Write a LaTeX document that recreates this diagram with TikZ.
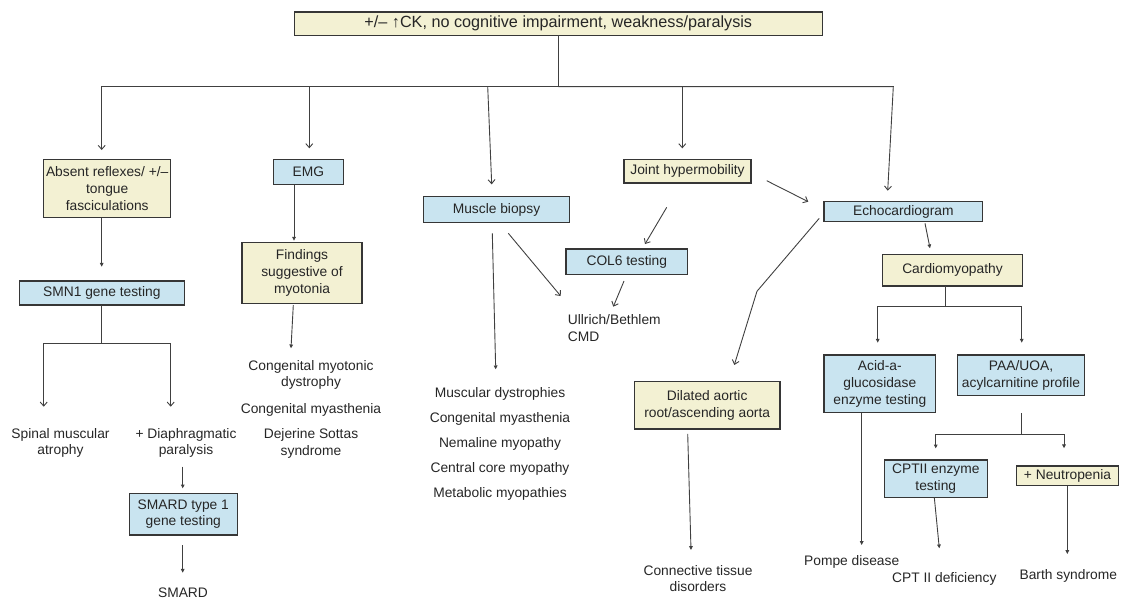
\documentclass[tikz,border=0pt]{standalone}
\usepackage{fontspec}
\setmainfont{Liberation Sans}
\usetikzlibrary{arrows.meta,calc}
\definecolor{cream}{HTML}{F3F1D3}
\definecolor{pale}{HTML}{C9E4F0}
\definecolor{edge}{HTML}{363636}
\definecolor{wire}{HTML}{404040}

\begin{document}
\begin{tikzpicture}
  [
    x=1pt, y=-1pt,
    every node/.style = {font=\fontsize{13.8}{16.7}\selectfont, text=black!85},
    box/.style =
      {draw=edge, line width=1.2pt, inner sep=2pt, outer sep=0pt, align=center},
    ybox/.style = {box, fill=cream},
    bbox/.style = {box, fill=pale},
    txt/.style = {inner sep=0pt, align=center},
    ln/.style = {draw=wire, line width=0.9pt},
    oa/.style = {ln, -{Straight Barb[length=4pt, width=7pt]}},
    fa/.style = {ln, -{Triangle[length=3.8pt, width=3.6pt]}}
  ]
  \useasboundingbox (0, 0) rectangle (1121, 603);

  \node [ybox, minimum width=528pt, minimum height=23.3pt,
         font=\fontsize{16.2}{19}\selectfont] (top) at (558.3, 23.7)
        {+/– ↑CK, no cognitive impairment, weakness/paralysis};

  \node [ybox, minimum width=127pt, minimum height=58.4pt] (absent) at (107.2, 188.5)
        {Absent reflexes/ +/–\\tongue\\fasciculations};
  \node [bbox, minimum width=70pt, minimum height=25.4pt] (emg) at (308.3, 172) {EMG};
  \node [bbox, minimum width=145.6pt, minimum height=25.6pt] (biopsy) at (496.5, 209.5) {Muscle biopsy};
  \node [ybox, minimum width=127pt, minimum height=23.7pt] (joint) at (687.5, 171.2) {Joint hypermobility};
  \node [bbox, minimum width=158.7pt, minimum height=20pt] (echo) at (903.3, 211.7) {Echocardiogram};

  \node [ybox, minimum width=120pt, minimum height=61pt] (findings) at (302, 272.8)
        {Findings\\suggestive of\\myotonia};
  \node [bbox, minimum width=165pt, minimum height=24pt] (smn) at (101.8, 293) {SMN1 gene testing};
  \node [bbox, minimum width=121.7pt, minimum height=25.3pt] (col) at (626.8, 261.7) {COL6 testing};
  \node [ybox, minimum width=139.6pt, minimum height=31.3pt] (cardio) at (952.5, 270.3) {Cardiomyopathy};
  \node [ybox, minimum width=145.7pt, minimum height=47.3pt] (aorta) at (707.2, 405.3)
        {Dilated aortic\\root/ascending aorta};
  \node [bbox, minimum width=111.7pt, minimum height=57.7pt] (acid) at (879.8, 383.8)
        {Acid-a-\\glucosidase\\enzyme testing};
  \node [bbox, minimum width=126.6pt, minimum height=40.7pt] (paa) at (1021, 375.3)
        {PAA/UOA,\\acylcarnitine profile};
  \node [bbox, minimum width=103pt, minimum height=37.3pt] (cpt) at (935.8, 478.7)
        {CPTII enzyme\\testing};
  \node [ybox, minimum width=101.6pt, minimum height=19.7pt] (neutro) at (1067.5, 475.8) {+ Neutropenia};
  \node [bbox, minimum width=108pt, minimum height=41.7pt] (smard1) at (183.3, 514.2)
        {SMARD type 1\\gene testing};

  \node [txt] (sma) at (60.5, 443) {Spinal muscular\\atrophy};
  \node [txt] (diaph) at (186, 443) {+ Diaphragmatic\\paralysis};
  \node [txt] (smard) at (183, 593) {SMARD};
  \node [txt] (myot) at (311, 375) {Congenital myotonic\\dystrophy};
  \node [txt] (myas) at (311, 410) {Congenital myasthenia};
  \node [txt] (dss) at (311, 443.5) {Dejerine Sottas\\syndrome};
  \node [txt] (dx) at (500, 443.7)
        {Muscular dystrophies\\[8.3pt]Congenital myasthenia\\[8.3pt]Nemaline myopathy\\[8.3pt]Central core myopathy\\[8.3pt]Metabolic myopathies};
  \node [txt, align=left, anchor=west] (ullrich) at (567.7, 328) {Ullrich/Bethlem\\CMD};
  \node [txt] (ctd) at (698, 578.7) {Connective tissue\\disorders};
  \node [txt] (pompe) at (851.7, 561.7) {Pompe disease};
  \node [txt] (cptdef) at (944.3, 579.3) {CPT II deficiency};
  \node [txt] (barth) at (1068.3, 576) {Barth syndrome};

  \coordinate (hub) at ($(top.south) + (0, 51.2)$);
  \draw [ln] (top.south) -- (hub);
  \draw [oa] (hub) -| ([xshift=-5.5pt, yshift=9.3pt]absent.north);
  \draw [oa] (hub) -| ([xshift=1pt, yshift=11pt]emg.north);
  \draw [oa] ([xshift=-70.6pt]hub) -- ([xshift=-4.8pt, yshift=12.4pt]biopsy.north);
  \draw [oa] (hub) -| ([xshift=-5.2pt, yshift=11pt]joint.north);
  \draw [oa] (hub) -- ([xshift=335pt]hub) -- ([xshift=-15.6pt, yshift=11pt]echo.north);

  \draw [fa] ([xshift=-5.5pt]absent.south) -- ([xshift=-0.1pt, yshift=14.3pt]smn.north);
  \draw [oa] (smn.south) -- ++(0, 38.3) -| ([xshift=-16.8pt, yshift=36.3pt]sma.center);
  \draw [oa] (smn.south) -- ++(0, 38.3) -| ([xshift=-15.3pt, yshift=36.3pt]diaph.center);
  \draw [fa] ([xshift=-3.3pt, yshift=-23.7pt]diaph.center) -- ([xshift=-0.6pt, yshift=5pt]smard1.north);
  \draw [fa] ([xshift=-0.6pt, yshift=-10pt]smard1.south) -- ([xshift=-0.3pt, yshift=20.3pt]smard.center);

  \draw [fa] ([xshift=-14.3pt]emg.south) -- ([xshift=-8pt, yshift=1.6pt]findings.north);
  \draw [fa] ([xshift=-8.7pt, yshift=-1.7pt]findings.south) -- ([xshift=-20pt, yshift=26.7pt]myot.center);

  \draw [fa] ([xshift=-4.2pt, yshift=-11pt]biopsy.south) -- ([xshift=-4.3pt, yshift=74.4pt]dx.center);
  \draw [oa] ([xshift=11.8pt, yshift=-11pt]biopsy.south) -- ([xshift=-7pt, yshift=32pt]ullrich.west);
  \draw [oa] ([xshift=-20.8pt, yshift=-24.3pt]joint.south) -- ([xshift=18.2pt, yshift=5pt]col.north);
  \draw [oa] ([xshift=-2.8pt, yshift=-6.7pt]col.south) -- ([xshift=45.6pt, yshift=21.3pt]ullrich.west);
  \draw [oa] ([xshift=15.7pt, yshift=-9.5pt]joint.east) -- ([xshift=-15.7pt, yshift=10pt]echo.west);

  \draw [fa] ([xshift=21.7pt, yshift=-1.6pt]echo.south) -- ([xshift=-22.5pt, yshift=6.4pt]cardio.north);
  \draw [oa] ([xshift=-4.7pt, yshift=-6.6pt]echo.west) -- ++(-62.3, 73)
        -- ([xshift=27.1pt, yshift=16.7pt]aorta.north);
  \draw [fa] ([xshift=-19.5pt, yshift=-5pt]aorta.south) -- ([xshift=-7pt, yshift=28.7pt]ctd.center);

  \draw [fa] ([xshift=-6.8pt]cardio.south) -- ++(0, 20.7) -| ([xshift=-2.1pt, yshift=12.3pt]acid.north);
  \draw [fa] ([xshift=-6.8pt]cardio.south) -- ++(0, 20.7) -| ([xshift=0.7pt, yshift=12.3pt]paa.north);
  \draw [fa] ([xshift=-18.1pt]acid.south) -- ([xshift=10pt, yshift=16.7pt]pompe.center);
  \draw [fa] ([xshift=0.7pt, yshift=-17.6pt]paa.south) -- ++(0, 20.7) -| ([xshift=-0.1pt, yshift=11.7pt]cpt.north);
  \draw [fa] ([xshift=0.7pt, yshift=-17.6pt]paa.south) -- ++(0, 20.7) -| ([xshift=-3.5pt, yshift=17.7pt]neutro.north);
  \draw [fa] ([xshift=-1.5pt]cpt.south) -- ([xshift=-5pt, yshift=31pt]cptdef.center);
  \draw [fa] ([xshift=-0.2pt]neutro.south) -- ([xshift=-1pt, yshift=22pt]barth.center);

\end{tikzpicture}
\end{document}
